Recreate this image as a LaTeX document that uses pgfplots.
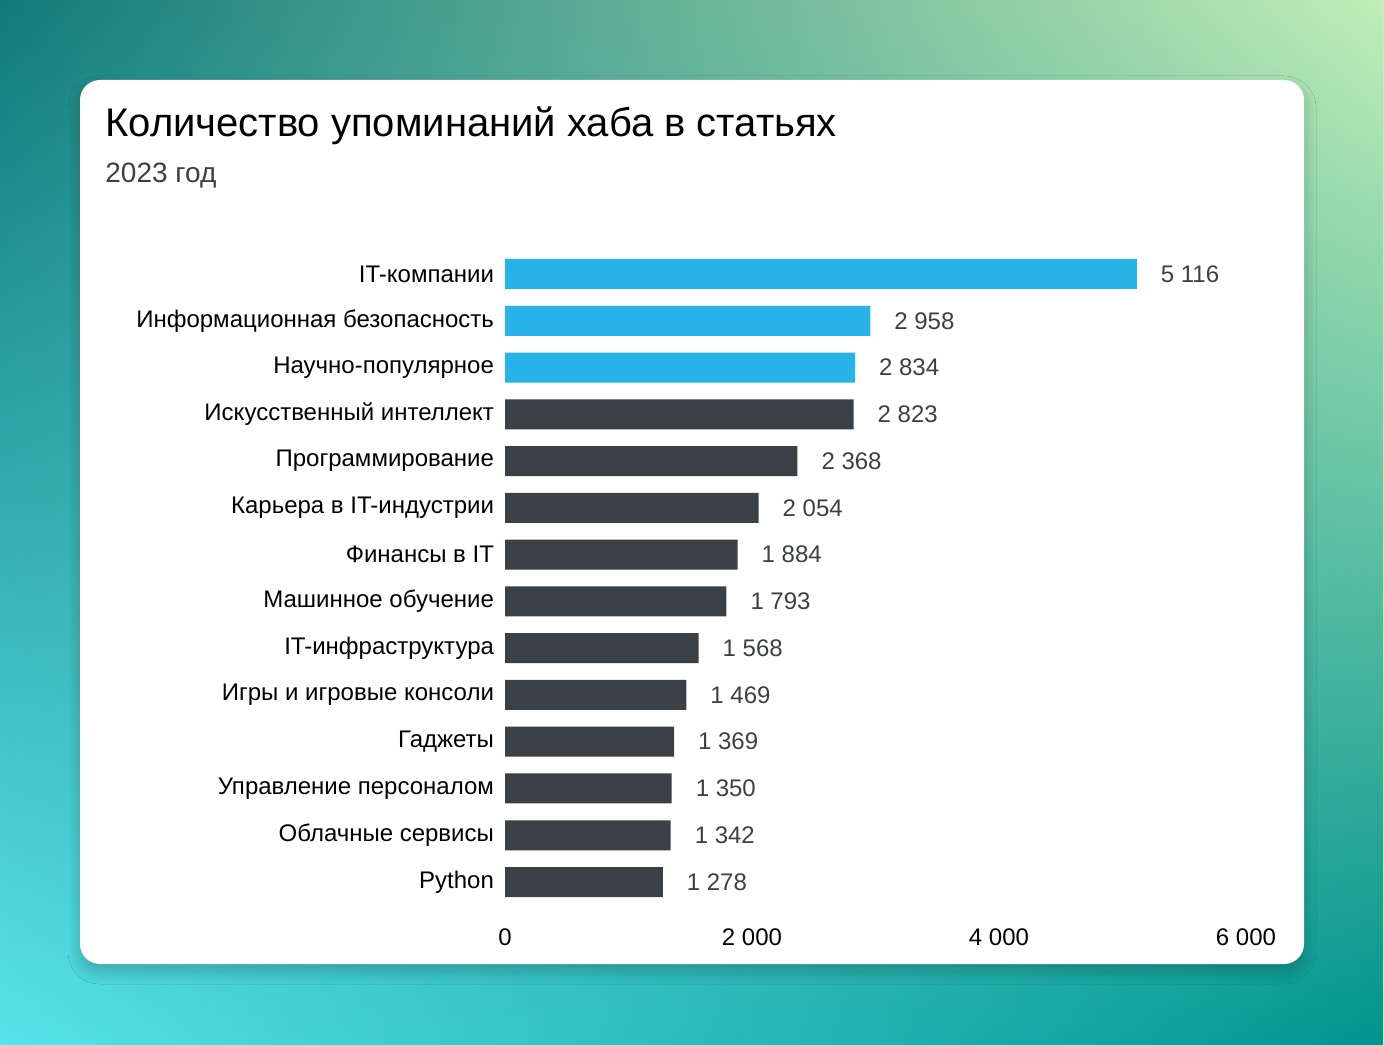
\documentclass[border=0pt]{standalone}
\usepackage{fontspec}
\setmainfont{Liberation Sans}
\usepackage{pgfplots}
\pgfplotsset{compat=1.18}
\usetikzlibrary{fadings,shadows.blur}
\definecolor{bgTL}{HTML}{117A7A}
\definecolor{bgTR}{HTML}{C2EFB8}
\definecolor{bgBL}{HTML}{58E4EC}
\definecolor{bgBR}{HTML}{00948F}
\definecolor{barblue}{HTML}{27B2E8}
\definecolor{bardark}{HTML}{394146}
\definecolor{valgray}{HTML}{3C4043}
\begin{document}
\begin{tikzpicture}
\useasboundingbox (0,0) rectangle (692pt,522pt);
\shade[left color=bgTL, right color=bgTR] (0,0) rectangle (692pt,522pt);
\shade[left color=bgBL, right color=bgBR, path fading=north] (0,0) rectangle (692pt,522pt);
\fill[white, rounded corners=10pt, blur shadow={shadow xshift=0pt, shadow yshift=-4pt, shadow blur radius=6pt, shadow blur steps=25, shadow opacity=22}] (40pt,40pt) rectangle (652pt,482pt);
\node[anchor=base west, inner sep=0pt, font=\fontsize{20}{24}\selectfont, text=black] at (52.5pt,453.5pt) {Количество упоминаний хаба в статьях};
\node[anchor=base west, inner sep=0pt, font=\fontsize{14}{17}\selectfont, text=valgray] at (52.5pt,430.5pt) {2023 год};
\begin{axis}[
  at={(252.5pt,69.3pt)}, anchor=south west,
  scale only axis, width=370.5pt, height=327.4pt,
  xmin=0, xmax=6000, ymin=-0.5, ymax=13.5,
  y dir=reverse,
  axis line style={draw=none},
  major tick length=0pt,
  xtick={0,2000,4000,6000},
  ytick={0,...,13},
  yticklabels={IT-компании,Информационная безопасность,Научно-популярное,Искусственный интеллект,Программирование,Карьера в IT-индустрии,Финансы в IT,Машинное обучение,IT-инфраструктура,Игры и игровые консоли,Гаджеты,Управление персоналом,Облачные сервисы,Python},
  /pgf/number format/assume math mode=true,
  /pgf/number format/1000 sep={\ },
  scaled x ticks=false,
  tick label style={font=\fontsize{12}{15}\selectfont, text=black},
  xticklabel style={yshift=-8pt},
  yticklabel style={xshift=-2pt},
  xbar, bar width=15pt, bar shift=0pt,
  nodes near coords={\pgfmathprintnumber[assume math mode=true,1000 sep={\ }]{\pgfplotspointmeta}},
  nodes near coords style={anchor=west, xshift=8.5pt, font=\fontsize{12}{15}\selectfont, text=valgray},
  point meta=x,
  clip=false,
]
\addplot[fill=barblue, draw=none] coordinates {(5116,0) (2958,1) (2834,2)};
\addplot[fill=bardark, draw=none] coordinates {(2823,3) (2368,4) (2054,5) (1884,6) (1793,7) (1568,8) (1469,9) (1369,10) (1350,11) (1342,12) (1278,13)};
\end{axis}
\end{tikzpicture}
\end{document}
